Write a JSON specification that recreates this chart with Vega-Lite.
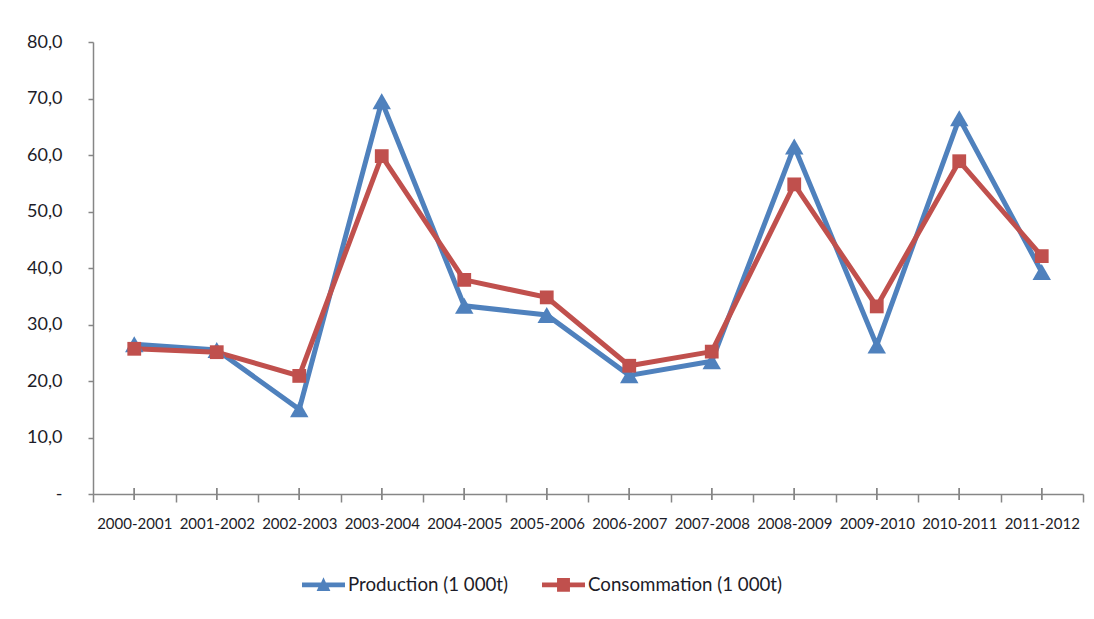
{
  "$schema": "https://vega.github.io/schema/vega-lite/v6.json",
  "autosize": "none",
  "width": 990,
  "height": 452,
  "padding": {"left": 93, "top": 42, "right": 11, "bottom": 125},
  "background": "white",
  "config": {
    "view": {"stroke": null},
    "font": "Lato, sans-serif",
    "axis": {
      "domainColor": "#868686",
      "domainWidth": 1.5,
      "tickColor": "#868686",
      "tickWidth": 1.5,
      "grid": false,
      "labelFont": "Lato, sans-serif",
      "labelColor": "#1c1c28"
    }
  },
  "data": {
    "values": [
      {"period": "2000-2001", "series": "Production (1 000t)", "value": 26.5},
      {"period": "2001-2002", "series": "Production (1 000t)", "value": 25.5},
      {"period": "2002-2003", "series": "Production (1 000t)", "value": 15.0},
      {"period": "2003-2004", "series": "Production (1 000t)", "value": 69.5},
      {"period": "2004-2005", "series": "Production (1 000t)", "value": 33.3},
      {"period": "2005-2006", "series": "Production (1 000t)", "value": 31.7},
      {"period": "2006-2007", "series": "Production (1 000t)", "value": 21.0},
      {"period": "2007-2008", "series": "Production (1 000t)", "value": 23.5},
      {"period": "2008-2009", "series": "Production (1 000t)", "value": 61.5},
      {"period": "2009-2010", "series": "Production (1 000t)", "value": 26.3},
      {"period": "2010-2011", "series": "Production (1 000t)", "value": 66.5},
      {"period": "2011-2012", "series": "Production (1 000t)", "value": 39.3},
      {"period": "2000-2001", "series": "Consommation (1 000t)", "value": 25.7},
      {"period": "2001-2002", "series": "Consommation (1 000t)", "value": 25.1},
      {"period": "2002-2003", "series": "Consommation (1 000t)", "value": 20.9},
      {"period": "2003-2004", "series": "Consommation (1 000t)", "value": 59.8},
      {"period": "2004-2005", "series": "Consommation (1 000t)", "value": 37.9},
      {"period": "2005-2006", "series": "Consommation (1 000t)", "value": 34.8},
      {"period": "2006-2007", "series": "Consommation (1 000t)", "value": 22.7},
      {"period": "2007-2008", "series": "Consommation (1 000t)", "value": 25.2},
      {"period": "2008-2009", "series": "Consommation (1 000t)", "value": 54.8},
      {"period": "2009-2010", "series": "Consommation (1 000t)", "value": 33.2},
      {"period": "2010-2011", "series": "Consommation (1 000t)", "value": 58.9},
      {"period": "2011-2012", "series": "Consommation (1 000t)", "value": 42.1}
    ]
  },
  "encoding": {
    "x": {
      "field": "period",
      "type": "nominal",
      "sort": null,
      "scale": {"type": "band", "paddingInner": 0, "paddingOuter": 0},
      "axis": {
        "title": null,
        "labelAngle": 0,
        "tickBand": "extent",
        "tickSize": 8,
        "labelPadding": 14,
        "labelFontSize": 15
      }
    }
  },
  "layer": [
    {
      "mark": {"type": "rule", "color": "#868686", "strokeWidth": 1.5},
      "encoding": {
        "y": {"datum": -1.05, "type": "quantitative", "scale": {"domain": [0, 80], "nice": false}},
        "y2": {"datum": 1.05}
      }
    },
    {
      "mark": {"type": "line", "strokeWidth": 5, "strokeJoin": "miter", "strokeCap": "round"},
      "encoding": {
        "y": {
          "field": "value",
          "type": "quantitative",
          "scale": {"domain": [0, 80], "nice": false},
          "axis": {
            "title": null,
            "values": [0, 10, 20, 30, 40, 50, 60, 70, 80],
            "tickSize": 5,
            "labelPadding": 26,
            "labelFontSize": 18,
            "labelExpr": "datum.value == 0 ? '-\u2002' : replace(format(datum.value, '.1f'), '.', ',')"
          }
        },
        "color": {
          "field": "series",
          "type": "nominal",
          "scale": {"domain": ["Production (1 000t)", "Consommation (1 000t)"], "range": ["#4F81BD", "#C0504D"]},
          "legend": {
            "title": null,
            "orient": "none",
            "direction": "horizontal",
            "legendX": 209,
            "legendY": 521,
            "padding": 0,
            "symbolSize": 1849,
            "labelOffset": 3,
            "columnPadding": 33,
            "labelFontSize": 18.7,
            "labelLimit": 400,
            "labelColor": "#1c1c28",
            "labelFont": "Lato, sans-serif",
            "encode": {
              "symbols": {
                "update": {
                  "shape": {"signal": "datum.value == 'Production (1 000t)' ? 'M-1,-0.11 L-0.11,-0.11 L0,-0.36 L0.11,-0.11 L1,-0.11 L1,0.11 L0.24,0.11 L0.32,0.28 L-0.32,0.28 L-0.24,0.11 L-1,0.11 Z' : 'M-1,-0.11 L-0.3,-0.11 L-0.3,-0.32 L0.3,-0.32 L0.3,-0.11 L1,-0.11 L1,0.11 L0.3,0.11 L0.3,0.32 L-0.3,0.32 L-0.3,0.11 L-1,0.11 Z'"},
                  "fill": {"signal": "datum.value == 'Production (1 000t)' ? '#4F81BD' : '#C0504D'"},
                  "fillOpacity": {"value": 1},
                  "strokeWidth": {"value": 0}
                }
              }
            }
          }
        }
      }
    },
    {
      "transform": [{"filter": "datum.series == 'Production (1 000t)'"}],
      "mark": {"type": "point", "filled": true, "opacity": 1, "shape": "triangle-up", "size": 340},
      "encoding": {
        "y": {"field": "value", "type": "quantitative"},
        "color": {"field": "series", "type": "nominal"}
      }
    },
    {
      "transform": [{"filter": "datum.series == 'Consommation (1 000t)'"}],
      "mark": {"type": "point", "filled": true, "opacity": 1, "shape": "square", "size": 190},
      "encoding": {
        "y": {"field": "value", "type": "quantitative"},
        "color": {"field": "series", "type": "nominal"}
      }
    }
  ]
}
